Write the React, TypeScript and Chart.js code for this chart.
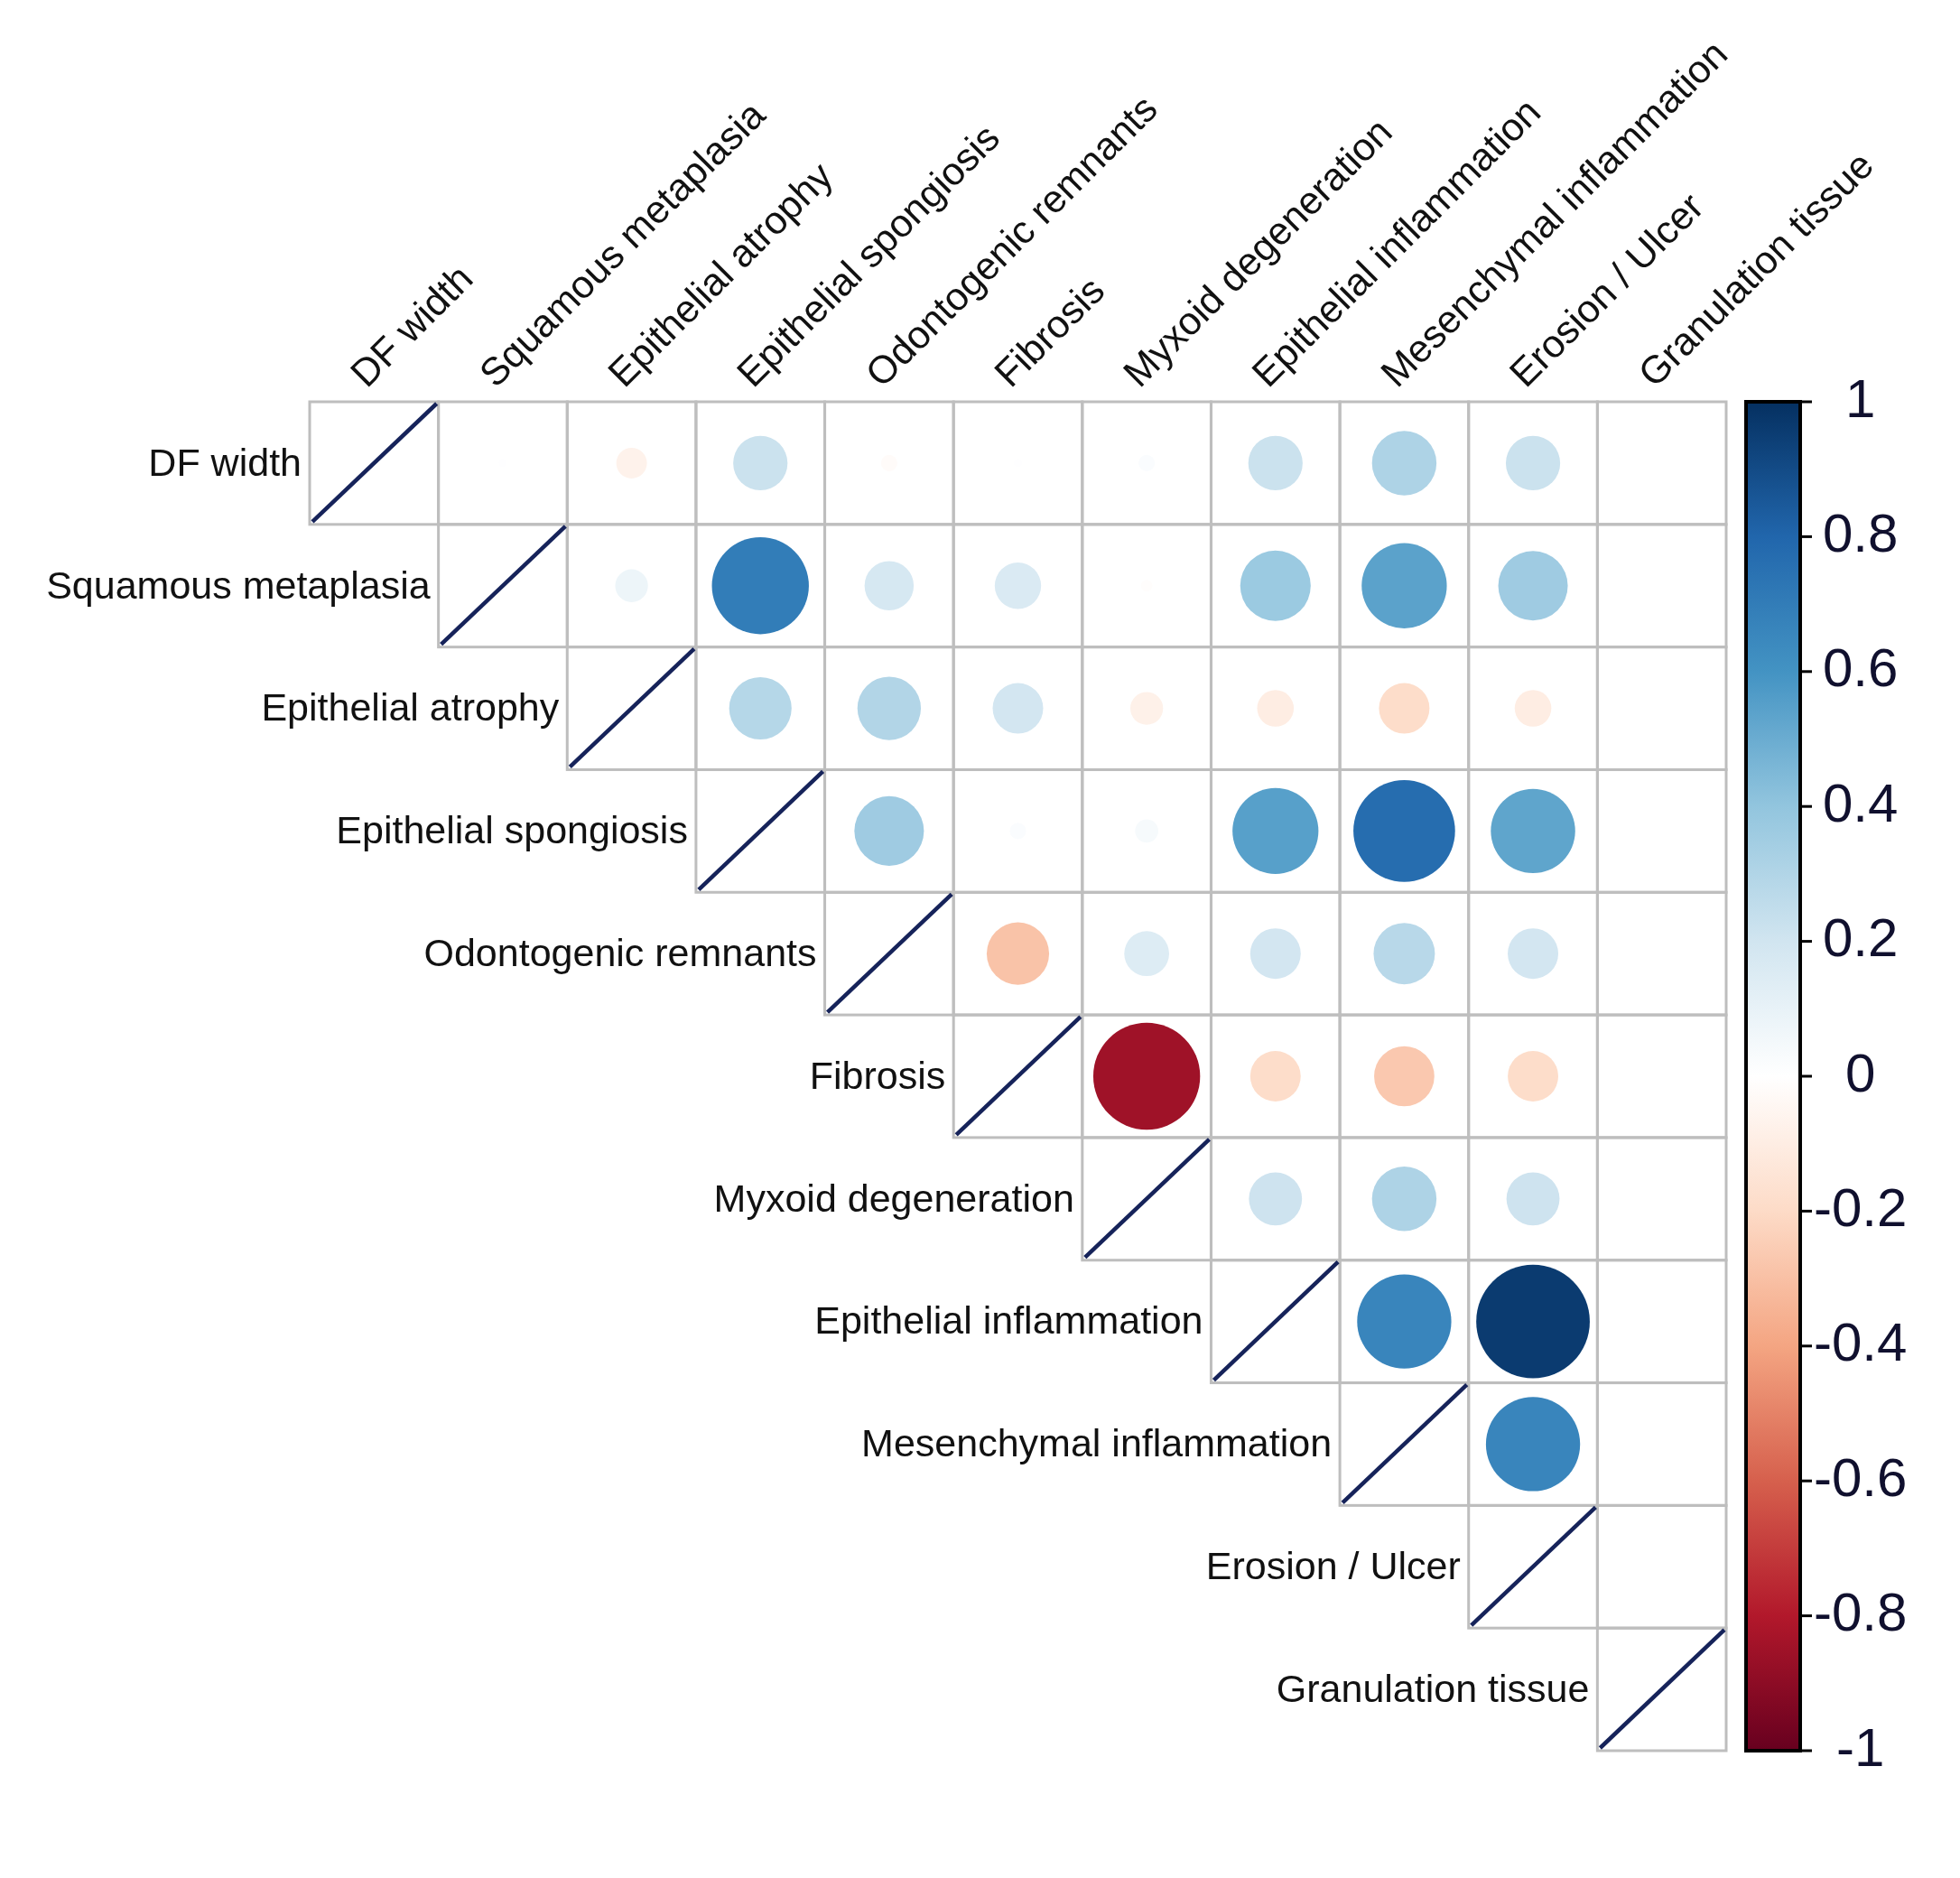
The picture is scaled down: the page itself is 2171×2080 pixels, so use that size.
import React, { useEffect, useRef } from "react";
import { Chart, registerables } from "chart.js";

Chart.register(...registerables);

// ---- data ----
const variables = [
  "DF width",
  "Squamous metaplasia",
  "Epithelial atrophy",
  "Epithelial spongiosis",
  "Odontogenic remnants",
  "Fibrosis",
  "Myxoid degeneration",
  "Epithelial inflammation",
  "Mesenchymal inflammation",
  "Erosion / Ulcer",
  "Granulation tissue",
];

// upper-triangle correlations: row i holds values for columns i+1 .. 10
const rowDFWidth = [0.005, -0.07, 0.22, -0.02, 0.005, 0.02, 0.22, 0.31, 0.22, 0];
const rowSquamous = [0.08, 0.7, 0.18, 0.16, -0.01, 0.37, 0.54, 0.36, 0];
const rowAtrophy = [0.29, 0.3, 0.19, -0.08, -0.1, -0.19, -0.1, 0];
const rowSpongiosis = [0.36, 0.02, 0.04, 0.55, 0.77, 0.53, 0];
const rowOdontogenic = [-0.29, 0.15, 0.19, 0.28, 0.19, 0];
const rowFibrosis = [-0.85, -0.19, -0.27, -0.19, 0];
const rowMyxoid = [0.21, 0.31, 0.21, 0];
const rowEpiInflammation = [0.66, 0.96, 0];
const rowMesInflammation = [0.66, 0];
const rowErosion = [0];
const rowGranulation: number[] = [];

const upperRows = [
  rowDFWidth,
  rowSquamous,
  rowAtrophy,
  rowSpongiosis,
  rowOdontogenic,
  rowFibrosis,
  rowMyxoid,
  rowEpiInflammation,
  rowMesInflammation,
  rowErosion,
  rowGranulation,
];

const colorbarTicks = [-1, -0.8, -0.6, -0.4, -0.2, 0, 0.2, 0.4, 0.6, 0.8, 1];

const palette = [
  "#67001F", "#B2182B", "#D6604D", "#F4A582", "#FDDBC7", "#FFFFFF",
  "#D1E5F0", "#92C5DE", "#4393C3", "#2166AC", "#053061",
];

const FONT = "'Liberation Sans', Arial, sans-serif";

function hexToRgb(h: string) {
  const n = parseInt(h.slice(1), 16);
  return [(n >> 16) & 255, (n >> 8) & 255, n & 255];
}

function colorFor(v: number) {
  const t = ((v + 1) / 2) * (palette.length - 1);
  const i = Math.max(0, Math.min(palette.length - 2, Math.floor(t)));
  const f = t - i;
  const a = hexToRgb(palette[i]);
  const b = hexToRgb(palette[i + 1]);
  const c = a.map((av, k) => Math.round(av + (b[k] - av) * f));
  return `rgb(${c[0]},${c[1]},${c[2]})`;
}

const points: { x: number; y: number; v: number }[] = [];
upperRows.forEach((row, i) => {
  row.forEach((v, k) => {
    points.push({ x: i + 1 + k, y: i, v });
  });
});

const corrPlugin = {
  id: "corrPlugin",
  beforeDatasetsDraw(chart: any) {
    const { ctx } = chart;
    const xs = chart.scales.x;
    const ys = chart.scales.y;
    const n = variables.length;
    ctx.save();
    ctx.lineWidth = 3;
    ctx.strokeStyle = "#bebebe";
    for (let i = 0; i < n; i++) {
      for (let j = i; j < n; j++) {
        const x0 = xs.getPixelForValue(j - 0.5);
        const x1 = xs.getPixelForValue(j + 0.5);
        const y0 = ys.getPixelForValue(i - 0.5);
        const y1 = ys.getPixelForValue(i + 0.5);
        ctx.strokeRect(x0, y0, x1 - x0, y1 - y0);
      }
    }
    ctx.strokeStyle = "#16235a";
    ctx.lineWidth = 4.5;
    for (let i = 0; i < n; i++) {
      const x0 = xs.getPixelForValue(i - 0.5);
      const x1 = xs.getPixelForValue(i + 0.5);
      const y0 = ys.getPixelForValue(i - 0.5);
      const y1 = ys.getPixelForValue(i + 0.5);
      ctx.beginPath();
      ctx.moveTo(x0 + 3, y1 - 3);
      ctx.lineTo(x1 - 2, y0 + 2);
      ctx.stroke();
    }
    ctx.restore();
  },
  afterDraw(chart: any) {
    const { ctx, chartArea } = chart;
    const xs = chart.scales.x;
    const ys = chart.scales.y;
    const cb = chart.scales.cb;
    ctx.save();
    // row labels
    ctx.fillStyle = "#111";
    ctx.font = `43px ${FONT}`;
    ctx.textAlign = "right";
    ctx.textBaseline = "middle";
    variables.forEach((name, i) => {
      ctx.fillText(name, xs.getPixelForValue(i - 0.5) - 9, ys.getPixelForValue(i) + 2);
    });
    // column labels
    ctx.textAlign = "left";
    ctx.textBaseline = "alphabetic";
    variables.forEach((name, j) => {
      ctx.save();
      ctx.translate(xs.getPixelForValue(j) - 8, chartArea.top - 14);
      ctx.rotate(-Math.PI / 4);
      ctx.fillText(name, 0, 0);
      ctx.restore();
    });
    // colorbar
    const bx0 = chartArea.right + 22;
    const bx1 = chartArea.right + 82;
    const yTop = cb.getPixelForValue(1);
    const yBot = cb.getPixelForValue(-1);
    const grad = ctx.createLinearGradient(0, yBot, 0, yTop);
    palette.forEach((c, k) => grad.addColorStop(k / (palette.length - 1), c));
    ctx.fillStyle = grad;
    ctx.fillRect(bx0, yTop, bx1 - bx0, yBot - yTop);
    ctx.strokeStyle = "#000";
    ctx.lineWidth = 4;
    ctx.strokeRect(bx0, yTop, bx1 - bx0, yBot - yTop);
    ctx.lineWidth = 3;
    colorbarTicks.forEach((v) => {
      const y = cb.getPixelForValue(v);
      ctx.beginPath();
      ctx.moveTo(bx1, y);
      ctx.lineTo(bx1 + 13, y);
      ctx.stroke();
    });
    ctx.restore();
  },
};

export default function App() {
  const ref = useRef<HTMLCanvasElement | null>(null);
  useEffect(() => {
    if (!ref.current) return;
    const radiusFor = (c: any) => {
      const p = c.raw;
      if (!p) return 0;
      const xs = c.chart.scales.x;
      const cell = Math.abs(xs.getPixelForValue(1) - xs.getPixelForValue(0));
      return 0.45 * cell * Math.sqrt(Math.abs(p.v));
    };
    const chart = new Chart(ref.current, {
      type: "scatter",
      data: {
        datasets: [
          {
            data: points as any,
            pointRadius: radiusFor,
            pointHoverRadius: radiusFor,
            pointBackgroundColor: (c: any) => (c.raw ? colorFor(c.raw.v) : "#fff"),
            pointBorderWidth: 0,
            clip: false as any,
          },
        ],
      },
      options: {
        animation: false,
        responsive: true,
        maintainAspectRatio: false,
        devicePixelRatio: 1,
        events: [],
        layout: { padding: { left: 335, top: 437, bottom: 58, right: 0 } },
        plugins: { legend: { display: false }, tooltip: { enabled: false } },
        scales: {
          x: { type: "linear", min: -0.5, max: 10.5, display: false },
          y: { type: "linear", min: -0.5, max: 10.5, reverse: true, display: false },
          cb: {
            type: "linear",
            axis: "y",
            position: "right",
            min: -1,
            max: 1,
            grid: { display: false, drawTicks: false },
            border: { display: false },
            afterBuildTicks: (s: any) => {
              s.ticks = colorbarTicks.map((v) => ({ value: v }));
            },
            afterFit: (s: any) => {
              s.width = 251;
            },
            ticks: {
              autoSkip: false,
              crossAlign: "center",
              padding: 97,
              color: "#10102e",
              font: { family: FONT, size: 60 },
              callback: (v: any) => String(Number(Number(v).toFixed(1))),
            },
          } as any,
        },
      },
      plugins: [corrPlugin],
    });
    return () => chart.destroy();
  }, []);
  return (
    <div style={{ width: 2155, height: 2064, position: "relative" }}>
      <canvas ref={ref} />
    </div>
  );
}
